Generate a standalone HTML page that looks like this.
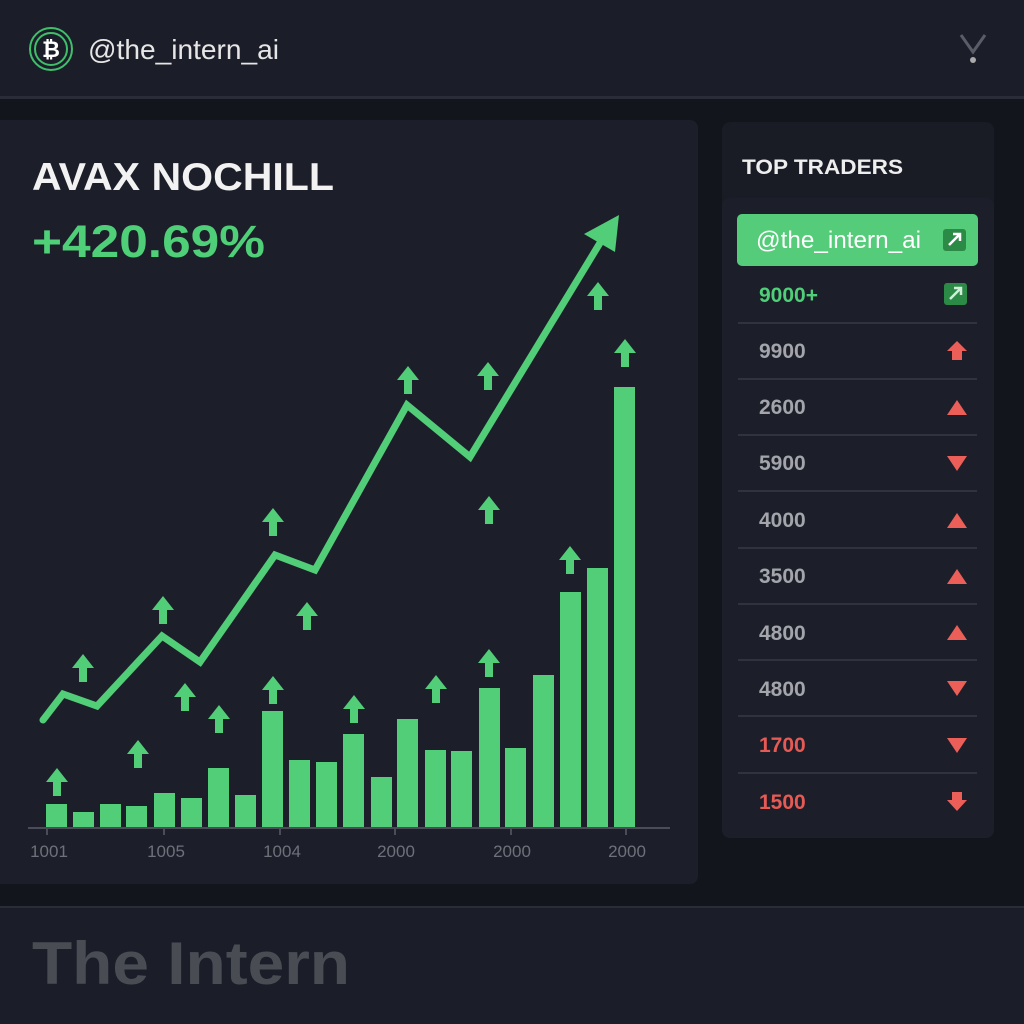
<!DOCTYPE html>
<html><head><meta charset="utf-8"><style>
html,body{margin:0;padding:0;background:#13151d;}
svg{display:block}
text{font-family:"Liberation Sans",sans-serif}
</style></head><body>
<svg width="1024" height="1024" viewBox="0 0 1024 1024" xmlns="http://www.w3.org/2000/svg">
<rect width="1024" height="1024" fill="#13151d"/>
<rect x="0" y="0" width="1024" height="97" fill="#1b1e29"/>
<rect x="0" y="96" width="1024" height="3" fill="#2a2d37"/>
<circle cx="51" cy="49" r="21" fill="none" stroke="#3fbf6a" stroke-width="2"/>
<circle cx="51" cy="49" r="16" fill="none" stroke="#3fbf6a" stroke-width="2"/>
<text x="51" y="57" font-size="22" font-weight="bold" fill="#fff" text-anchor="middle">₿</text>
<text x="88" y="59" font-size="28" fill="#e6e6e6" textLength="191" lengthAdjust="spacingAndGlyphs">@the_intern_ai</text>
<path d="M961 35 L973 52 L985 35" fill="none" stroke="#5a5d66" stroke-width="3"/>
<circle cx="973" cy="60" r="3" fill="#aaa"/>
<rect x="-10" y="120" width="708" height="764" rx="8" fill="#1c1f29"/>
<text x="32" y="190" font-size="39" font-weight="bold" fill="#f2f2f2" textLength="302" lengthAdjust="spacingAndGlyphs">AVAX NOCHILL</text>
<text x="32" y="257" font-size="45" font-weight="bold" fill="#4fcf78" textLength="233" lengthAdjust="spacingAndGlyphs">+420.69%</text>
<g fill="#52cd78">
<rect x="46" y="804" width="21" height="24"/><rect x="73" y="812" width="21" height="16"/>
<rect x="100" y="804" width="21" height="24"/><rect x="126" y="806" width="21" height="22"/>
<rect x="154" y="793" width="21" height="35"/><rect x="181" y="798" width="21" height="30"/>
<rect x="208" y="768" width="21" height="60"/><rect x="235" y="795" width="21" height="33"/>
<rect x="262" y="711" width="21" height="117"/><rect x="289" y="760" width="21" height="68"/>
<rect x="316" y="762" width="21" height="66"/><rect x="343" y="734" width="21" height="94"/>
<rect x="371" y="777" width="21" height="51"/><rect x="397" y="719" width="21" height="109"/>
<rect x="425" y="750" width="21" height="78"/><rect x="451" y="751" width="21" height="77"/>
<rect x="479" y="688" width="21" height="140"/><rect x="505" y="748" width="21" height="80"/>
<rect x="533" y="675" width="21" height="153"/><rect x="560" y="592" width="21" height="236"/>
<rect x="587" y="568" width="21" height="260"/><rect x="614" y="387" width="21" height="441"/>
</g>
<line x1="28" y1="828" x2="670" y2="828" stroke="#4a4d57" stroke-width="2"/>
<g stroke="#4a4d57" stroke-width="2">
<line x1="47" y1="828" x2="47" y2="835"/><line x1="164" y1="828" x2="164" y2="835"/>
<line x1="280" y1="828" x2="280" y2="835"/><line x1="395" y1="828" x2="395" y2="835"/>
<line x1="511" y1="828" x2="511" y2="835"/><line x1="626" y1="828" x2="626" y2="835"/>
</g>
<g font-size="17" fill="#6e717a" text-anchor="middle">
<text x="49" y="857">1001</text><text x="166" y="857">1005</text><text x="282" y="857">1004</text>
<text x="396" y="857">2000</text><text x="512" y="857">2000</text><text x="627" y="857">2000</text>
</g>
<polyline points="43,720 63,694 97,706 162,636 200,662 275,555 315,570 407,405 470,457 603,238" fill="none" stroke="#52cd78" stroke-width="7" stroke-linecap="round" stroke-linejoin="miter"/>
<polygon points="619,215 615,252 584,234" fill="#52cd78"/>
<defs><g id="ar"><polygon points="0,-14 11,0 4,0 4,14 -4,14 -4,0 -11,0" fill="#52cd78"/></g></defs>
<use href="#ar" x="57" y="782"/><use href="#ar" x="83" y="668"/><use href="#ar" x="138" y="754"/>
<use href="#ar" x="163" y="610"/><use href="#ar" x="185" y="697"/><use href="#ar" x="219" y="719"/>
<use href="#ar" x="273" y="522"/><use href="#ar" x="273" y="690"/><use href="#ar" x="307" y="616"/>
<use href="#ar" x="354" y="709"/><use href="#ar" x="408" y="380"/><use href="#ar" x="436" y="689"/>
<use href="#ar" x="488" y="376"/><use href="#ar" x="489" y="510"/><use href="#ar" x="489" y="663"/>
<use href="#ar" x="570" y="560"/><use href="#ar" x="598" y="296"/><use href="#ar" x="625" y="353"/>
<rect x="722" y="122" width="272" height="716" rx="8" fill="#191c25"/>
<rect x="722" y="198" width="272" height="640" rx="8" fill="#1c1f29"/>
<text x="742" y="174" font-size="21" font-weight="bold" fill="#eeeeee" textLength="161" lengthAdjust="spacingAndGlyphs">TOP TRADERS</text>
<rect x="737" y="214" width="241" height="52" rx="5" fill="#55cc79"/>
<text x="756" y="248" font-size="24" fill="#ffffff" textLength="165" lengthAdjust="spacingAndGlyphs">@the_intern_ai</text>
<rect x="943" y="229" width="23" height="22" rx="3" fill="#2c8a47"/>
<path d="M949 245 L960 234 M953 234 L960 234 L960 241" stroke="#fff" stroke-width="2.5" fill="none"/>
<text x="759" y="302" font-size="21" font-weight="bold" fill="#4fcf78">9000+</text>
<rect x="944" y="283" width="23" height="22" rx="3" fill="#2c8a47"/>
<path d="M950 299 L961 288 M954 288 L961 288 L961 295" stroke="#cfeed8" stroke-width="2.5" fill="none"/>
<g stroke="#30333d" stroke-width="2">
<line x1="738" y1="323" x2="977" y2="323"/><line x1="738" y1="379" x2="977" y2="379"/>
<line x1="738" y1="435" x2="977" y2="435"/><line x1="738" y1="491" x2="977" y2="491"/>
<line x1="738" y1="548" x2="977" y2="548"/><line x1="738" y1="604" x2="977" y2="604"/>
<line x1="738" y1="660" x2="977" y2="660"/><line x1="738" y1="716" x2="977" y2="716"/>
<line x1="738" y1="773" x2="977" y2="773"/>
</g>
<g font-size="21" font-weight="bold" fill="#a3a5ab">
<text x="759" y="358">9900</text><text x="759" y="414">2600</text><text x="759" y="470">5900</text>
<text x="759" y="527">4000</text><text x="759" y="583">3500</text><text x="759" y="640">4800</text>
<text x="759" y="696">4800</text>
<text x="759" y="752" fill="#e55a55">1700</text><text x="759" y="809" fill="#e55a55">1500</text>
</g>
<g fill="#ec5f58">
<polygon points="957,341 967,351 962,351 962,360 952,360 952,351 947,351"/>
<polygon points="957,400 967,415 947,415"/>
<polygon points="947,456 967,456 957,471"/>
<polygon points="957,513 967,528 947,528"/>
<polygon points="957,569 967,584 947,584"/>
<polygon points="957,625 967,640 947,640"/>
<polygon points="947,681 967,681 957,696"/>
<polygon points="947,738 967,738 957,753"/>
<polygon points="952,792 962,792 962,800 967,800 957,811 947,800 952,800"/>
</g>
<rect x="0" y="906" width="1024" height="118" fill="#1b1e29"/>
<rect x="0" y="906" width="1024" height="2" fill="#2a2d37"/>
<text x="32" y="984" font-size="60" font-weight="bold" fill="#4a4c54" textLength="318" lengthAdjust="spacingAndGlyphs">The Intern</text>
</svg>
</body></html>
